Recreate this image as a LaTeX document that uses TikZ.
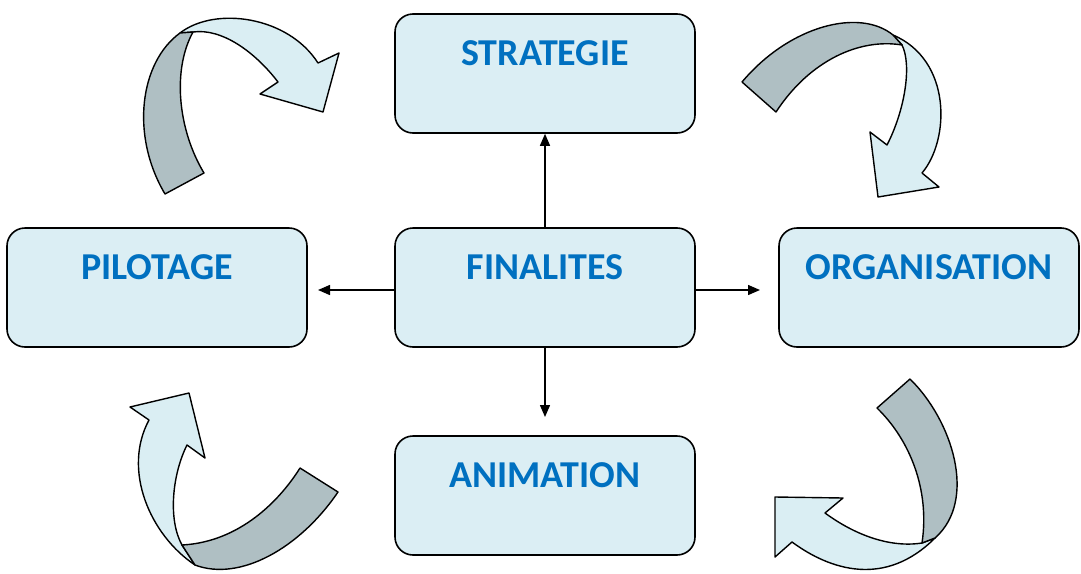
\documentclass[tikz,border=0pt]{standalone}
\usepackage{fontspec}
\setmainfont{Carlito}
\usetikzlibrary{arrows.meta}
\definecolor{boxfill}{HTML}{DBEEF4}
\definecolor{txtblue}{HTML}{0070C0}
\definecolor{ribbonlight}{HTML}{DAEEF3}
\definecolor{ribbondark}{HTML}{AFBFC3}
\tikzset{
  box/.style={draw=black, line width=1.6pt, fill=boxfill, rounded corners=18pt,
    minimum width=300pt, minimum height=119pt, inner sep=0pt},
  lbl/.style={font=\fontsize{38}{44}\selectfont\bfseries, text=txtblue, anchor=center, yshift=-39.5pt, inner sep=0pt},
  conn/.style={line width=1.4pt, -{Triangle[length=12pt,width=10pt]}},
  light/.style={draw=black, line width=1.4pt, fill=ribbonlight, line join=round},
  dark/.style={draw=black, line width=1.4pt, fill=ribbondark, line join=round}
}
\begin{document}
\begin{tikzpicture}[x=1pt,y=-1pt]
\useasboundingbox (0,0) rectangle (1081,573);
% boxes
\node[box, label={[lbl]north:STRATEGIE}] (strat) at (545,73.5) {};
\node[box, label={[lbl]north:PILOTAGE}] (pilot) at (157,287.5) {};
\node[box, label={[lbl]north:FINALITES}] (final) at (545,287.5) {};
\node[box, label={[lbl]north:ORGANISATION}] (orga) at (929,287.5) {};
\node[box, label={[lbl]north:ANIMATION}] (anim) at (545,495.5) {};
% connectors
\coordinate (lend) at (318,290);
\coordinate (rend) at (760,290);
\coordinate (dend) at (545,417);
\coordinate (lstart) at (final.west |- lend);
\coordinate (rstart) at (final.east |- rend);
\draw[conn] (final.north) -- (strat.south);
\draw[conn] (lstart) -- (lend);
\draw[conn] (rstart) -- (rend);
\draw[conn] (final.south) -- (dend);
% top-left ribbon arrow
\draw[light] (180,33) .. controls (215,6) and (288,16) .. (318,63) -- (339,53) -- (323,112) -- (260,94) -- (278,82)
  .. controls (255,52) and (222,28) .. (193,32) -- cycle;
\draw[dark] (180,33) .. controls (140,62) and (130,135) .. (165,194) -- (204,173)
  .. controls (178,130) and (172,70) .. (193,32) -- cycle;
% top-right ribbon arrow
\draw[light] (893,35) .. controls (952,60) and (950,140) .. (922,173) -- (939,187) -- (878,197) -- (870,132) -- (887,145)
  .. controls (905,110) and (912,65) .. (902,45) -- cycle;
\draw[dark] (742,82) .. controls (790,25) and (860,8) .. (893,35) -- (902,45)
  .. controls (860,38) and (810,60) .. (776,112) -- cycle;
% bottom-left ribbon arrow
\draw[light] (195,565) .. controls (150,535) and (122,470) .. (149,420) -- (130,407) -- (189,393) -- (205,458) -- (187,445)
  .. controls (172,475) and (168,520) .. (182,545) -- cycle;
\draw[dark] (182,545) .. controls (240,542) and (280,500) .. (300,468) -- (338,492)
  .. controls (300,548) and (240,582) .. (195,565) -- cycle;
% bottom-right ribbon arrow
\draw[light] (922,543) .. controls (890,548) and (855,535) .. (825,513) -- (843,498) -- (775,497) -- (775,557) -- (792,542)
  .. controls (830,570) and (885,588) .. (935,538) -- cycle;
\draw[dark] (910,379) .. controls (952,420) and (978,500) .. (935,538) -- (922,543)
  .. controls (930,490) and (910,440) .. (877,408) -- cycle;
\end{tikzpicture}
\end{document}
